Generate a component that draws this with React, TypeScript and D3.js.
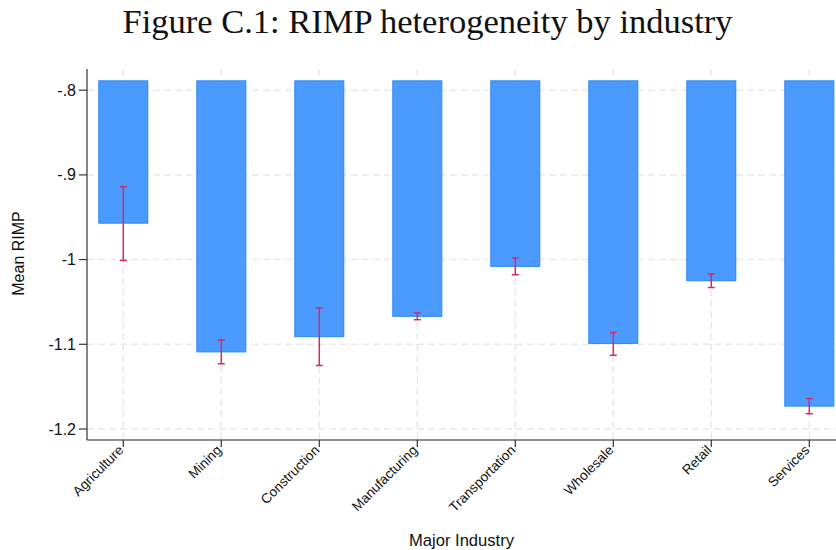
import React from "react";
import * as d3 from "d3";

const industries = ["Agriculture", "Mining", "Construction", "Manufacturing", "Transportation", "Wholesale", "Retail", "Services"];
const meanRimp = [-0.957, -1.109, -1.091, -1.067, -1.008, -1.099, -1.025, -1.173];
const ciLow = [-1.001, -1.123, -1.125, -1.071, -1.018, -1.113, -1.033, -1.182];
const ciHigh = [-0.914, -1.095, -1.057, -1.063, -0.998, -1.086, -1.017, -1.164];
const yTicks = [-0.8, -0.9, -1, -1.1, -1.2];
const yTickLabels = ["-.8", "-.9", "-1", "-1.1", "-1.2"];
const barBase = -0.789;

const W = 836, H = 550;
const left = 87, right = 836, top = 69, bottom = 440;

export default function App() {
  const y = d3.scaleLinear().domain([-1.213, -0.775]).range([bottom, top]);
  const x = d3.scalePoint<string>().domain(industries).range([123.3, 809.3]);
  const bw = x.step() * 0.5;
  const grid = "#e9e9e9";
  const sans = "'Liberation Sans', Arial, sans-serif";
  return (
    <svg width={W} height={H} style={{ position: "absolute", left: 0, top: 0, background: "#fff" }}>
      <rect x={0} y={0} width={W} height={H} fill="#fff" />
      <text x={427.5} y={33} textAnchor="middle" fontFamily="'Liberation Serif', 'DejaVu Serif', serif" fontSize={34.5} fill="#111">
        Figure C.1: RIMP heterogeneity by industry
      </text>
      {yTicks.map((t) => (
        <line key={"hg" + t} x1={left} x2={right} y1={y(t)} y2={y(t)} stroke={grid} strokeWidth={1.5} strokeDasharray="7,4" />
      ))}
      {industries.map((c) => (
        <line key={"vg" + c} x1={x(c)} x2={x(c)} y1={top} y2={bottom} stroke={grid} strokeWidth={1.5} strokeDasharray="7,4" />
      ))}
      {industries.map((c, i) => (
        <rect key={"b" + c} x={x(c)! - bw / 2} width={bw} y={y(barBase)} height={y(meanRimp[i]) - y(barBase)}
          fill="#4b9bff" stroke="#2b88f5" strokeWidth={1} />
      ))}
      {industries.map((c, i) => {
        const cx = x(c)!;
        return (
          <g key={"e" + c} stroke="#d42a69" strokeWidth={1.5}>
            <line x1={cx} x2={cx} y1={y(ciHigh[i])} y2={y(ciLow[i])} />
            <line x1={cx - 3.5} x2={cx + 3.5} y1={y(ciHigh[i])} y2={y(ciHigh[i])} />
            <line x1={cx - 3.5} x2={cx + 3.5} y1={y(ciLow[i])} y2={y(ciLow[i])} />
          </g>
        );
      })}
      <line x1={left} x2={left} y1={top} y2={bottom} stroke="#333" strokeWidth={1.2} />
      <line x1={left} x2={right} y1={bottom} y2={bottom} stroke="#222" strokeWidth={1.2} />
      {yTicks.map((t, i) => (
        <g key={"yt" + t}>
          <line x1={left - 8} x2={left} y1={y(t)} y2={y(t)} stroke="#333" strokeWidth={1.2} />
          <text x={left - 11} y={y(t)} dy="0.35em" textAnchor="end" fontFamily={sans} fontSize={16} fill="#111">{yTickLabels[i]}</text>
        </g>
      ))}
      {industries.map((c) => (
        <g key={"xt" + c}>
          <line x1={x(c)} x2={x(c)} y1={bottom} y2={bottom + 7} stroke="#333" strokeWidth={1.2} />
          <text transform={`translate(${x(c)! + 1},${bottom + 11}) rotate(-45)`} textAnchor="end" fontFamily={sans} fontSize={13.6} fill="#111">{c}</text>
        </g>
      ))}
      <text transform={`translate(23.5,253.5) rotate(-90)`} textAnchor="middle" fontFamily={sans} fontSize={16} fill="#111">Mean RIMP</text>
      <text x={461.5} y={545.5} textAnchor="middle" fontFamily={sans} fontSize={16.6} fill="#111">Major Industry</text>
    </svg>
  );
}
